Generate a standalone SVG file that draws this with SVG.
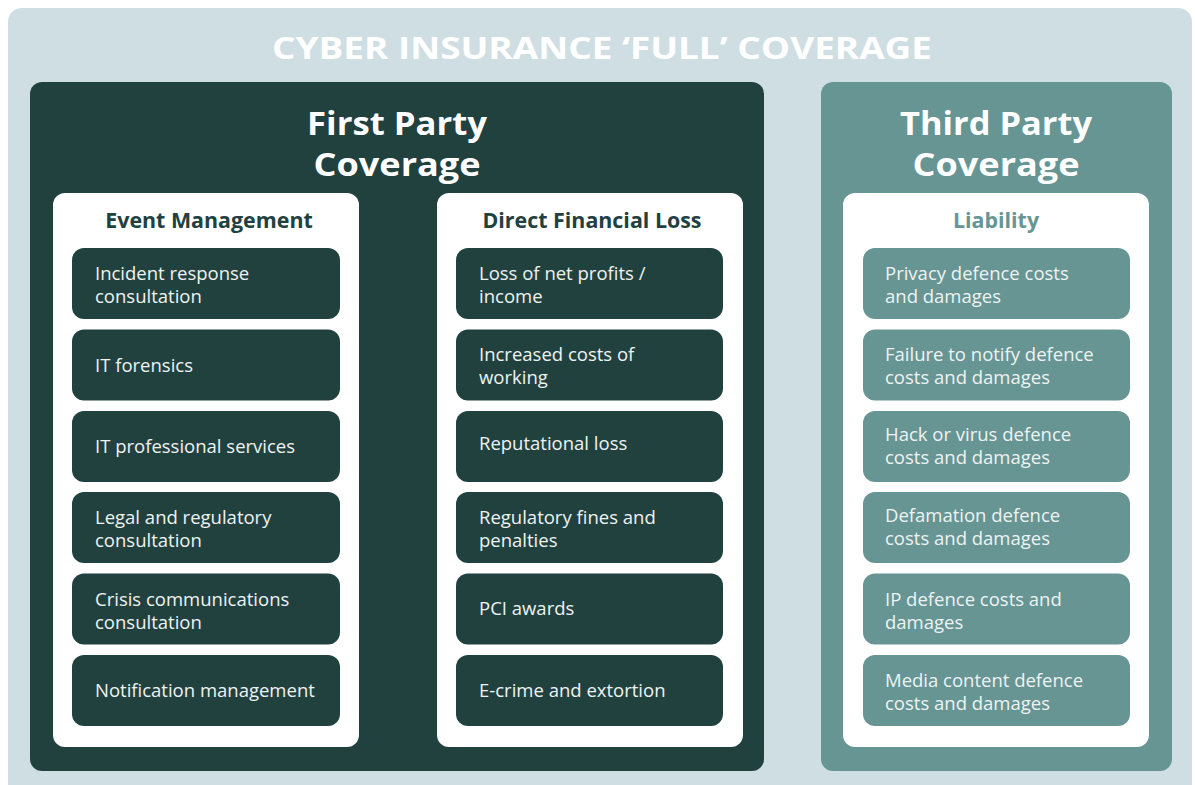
<svg xmlns="http://www.w3.org/2000/svg" width="1195" height="785" viewBox="0 0 1195 785">
  <style>
    .frame { fill: #cfdee2; }
    .dark { fill: #21413f; }
    .teal { fill: #669594; }
    .card { fill: #ffffff; }
    .title { font-family: "Open Sans", "Liberation Sans", sans-serif; font-weight: 700; fill: #ffffff; text-anchor: middle; }
    .head { font-family: "Open Sans", "Liberation Sans", sans-serif; font-weight: 700; font-size: 21.4px; text-anchor: middle; }
    .head-dark { fill: #21413f; }
    .head-teal { fill: #669594; }
    .item { font-family: "Open Sans", "Liberation Sans", sans-serif; font-size: 18.5px; fill: #eef3f2; }
  </style>

  <!-- background frame -->
  <rect class="frame" x="8" y="8" width="1184" height="800" rx="14"/>
  <text class="title" x="602" y="59" font-size="31" textLength="660" lengthAdjust="spacingAndGlyphs">CYBER INSURANCE ‘FULL’ COVERAGE</text>

  <!-- first party panel -->
  <g id="first-party">
    <rect class="dark" x="30" y="82" width="734" height="689" rx="12"/>
    <text class="title" x="397" y="135" font-size="33" textLength="180" lengthAdjust="spacingAndGlyphs">First Party</text>
    <text class="title" x="397" y="176" font-size="33" textLength="167" lengthAdjust="spacingAndGlyphs">Coverage</text>
  </g>

  <!-- event management column -->
  <g id="event-management">
    <rect class="card" x="53" y="193" width="306" height="554" rx="12"/>
    <text class="head head-dark" x="209" y="228">Event Management</text>
    <rect class="dark" x="72" y="248" width="268" height="71" rx="12"/>
    <text class="item" x="95" y="280">Incident response</text>
    <text class="item" x="95" y="303">consultation</text>
    <rect class="dark" x="72" y="329.5" width="268" height="71" rx="12"/>
    <text class="item" x="95" y="372">IT forensics</text>
    <rect class="dark" x="72" y="411" width="268" height="71" rx="12"/>
    <text class="item" x="95" y="453">IT professional services</text>
    <rect class="dark" x="72" y="492" width="268" height="71" rx="12"/>
    <text class="item" x="95" y="524">Legal and regulatory</text>
    <text class="item" x="95" y="547">consultation</text>
    <rect class="dark" x="72" y="573.5" width="268" height="71" rx="12"/>
    <text class="item" x="95" y="606">Crisis communications</text>
    <text class="item" x="95" y="629">consultation</text>
    <rect class="dark" x="72" y="655" width="268" height="71" rx="12"/>
    <text class="item" x="95" y="697">Notification management</text>
  </g>

  <!-- direct financial loss column -->
  <g id="direct-financial-loss">
    <rect class="card" x="437" y="193" width="306" height="554" rx="12"/>
    <text class="head head-dark" x="592" y="228">Direct Financial Loss</text>
    <rect class="dark" x="456" y="248" width="267" height="71" rx="12"/>
    <text class="item" x="479" y="280">Loss of net profits /</text>
    <text class="item" x="479" y="303">income</text>
    <rect class="dark" x="456" y="329.5" width="267" height="71" rx="12"/>
    <text class="item" x="479" y="361">Increased costs of</text>
    <text class="item" x="479" y="384">working</text>
    <rect class="dark" x="456" y="411" width="267" height="71" rx="12"/>
    <text class="item" x="479" y="450">Reputational loss</text>
    <rect class="dark" x="456" y="492" width="267" height="71" rx="12"/>
    <text class="item" x="479" y="524">Regulatory fines and</text>
    <text class="item" x="479" y="547">penalties</text>
    <rect class="dark" x="456" y="573.5" width="267" height="71" rx="12"/>
    <text class="item" x="479" y="615">PCI awards</text>
    <rect class="dark" x="456" y="655" width="267" height="71" rx="12"/>
    <text class="item" x="479" y="697">E-crime and extortion</text>
  </g>

  <!-- third party panel -->
  <g id="third-party">
    <rect class="teal" x="821" y="82" width="351" height="689" rx="12"/>
    <text class="title" x="996" y="135" font-size="33" textLength="192" lengthAdjust="spacingAndGlyphs">Third Party</text>
    <text class="title" x="996" y="176" font-size="33" textLength="167" lengthAdjust="spacingAndGlyphs">Coverage</text>
  </g>

  <!-- liability column -->
  <g id="liability">
    <rect class="card" x="843" y="193" width="306" height="554" rx="12"/>
    <text class="head head-teal" x="996" y="228">Liability</text>
    <rect class="teal" x="863" y="248" width="267" height="71" rx="12"/>
    <text class="item" x="885" y="280">Privacy defence costs</text>
    <text class="item" x="885" y="303">and damages</text>
    <rect class="teal" x="863" y="329.5" width="267" height="71" rx="12"/>
    <text class="item" x="885" y="361">Failure to notify defence</text>
    <text class="item" x="885" y="384">costs and damages</text>
    <rect class="teal" x="863" y="411" width="267" height="71" rx="12"/>
    <text class="item" x="885" y="441">Hack or virus defence</text>
    <text class="item" x="885" y="464">costs and damages</text>
    <rect class="teal" x="863" y="492" width="267" height="71" rx="12"/>
    <text class="item" x="885" y="522">Defamation defence</text>
    <text class="item" x="885" y="545">costs and damages</text>
    <rect class="teal" x="863" y="573.5" width="267" height="71" rx="12"/>
    <text class="item" x="885" y="606">IP defence costs and</text>
    <text class="item" x="885" y="629">damages</text>
    <rect class="teal" x="863" y="655" width="267" height="71" rx="12"/>
    <text class="item" x="885" y="687">Media content defence</text>
    <text class="item" x="885" y="710">costs and damages</text>
  </g>

  <!-- no connectors in this layout -->
  <g id="connectors"/>
</svg>
